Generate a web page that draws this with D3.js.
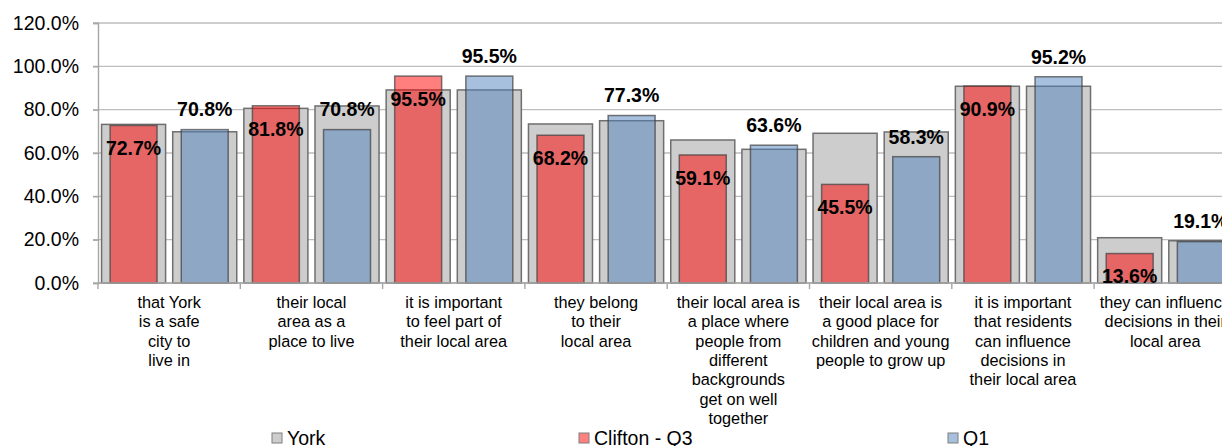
<!DOCTYPE html>
<html>
<head>
<meta charset="utf-8">
<script src="https://cdn.jsdelivr.net/npm/d3@7"></script>
<style>
  html, body { margin: 0; padding: 0; background: #fff; }
  svg { display: block; font-family: "Liberation Sans", Arial, sans-serif; }
</style>
</head>
<body>
<svg id="chart" width="1222" height="446"></svg>
<script>
// Category labels, pre-wrapped into lines
const categories = [
  ["that York", "is a safe", "city to", "live in"],
  ["their local", "area as a", "place to live"],
  ["it is important", "to feel part of", "their local area"],
  ["they belong", "to their", "local area"],
  ["their local area is", "a place where", "people from", "different", "backgrounds", "get on well", "together"],
  ["their local area is", "a good place for", "children and young", "people to grow up"],
  ["it is important", "that residents", "can influence", "decisions in", "their local area"],
  ["they can influence", "decisions in their", "local area"]
];

// York comparison values behind each quarter's bar (%)
const yorkQ3 = [73.2, 80.6, 89.1, 73.4, 66.0, 69.1, 90.8, 20.9];
const yorkQ1 = [69.8, 81.7, 89.1, 74.9, 61.7, 69.7, 90.8, 19.5];
// Ward values (%)
const cliftonQ3 = [72.7, 81.8, 95.5, 68.2, 59.1, 45.5, 90.9, 13.6];
const q1 = [70.8, 70.8, 95.5, 77.3, 63.6, 58.3, 95.2, 19.1];

const yTicks = [0, 20, 40, 60, 80, 100, 120];
const legendItems = ["York", "Clifton - Q3", "Q1"];

const svg = d3.select("#chart");
const margin = { left: 98, top: 23, bottom: 283, right: 1236.4 };

const idx = d3.range(categories.length);
const x0 = d3.scaleBand().domain(idx).range([margin.left, margin.right]).padding(0);
const x1 = d3.scaleBand().domain(["q3", "q1"]).range([0, x0.bandwidth()]).padding(0);
const y = d3.scaleLinear().domain([0, 120]).range([margin.bottom, margin.top]);

const slot = x1.bandwidth();
const yorkW = slot * 0.9;
const barW = slot * 0.66;

// Gridlines
svg.append("g")
  .selectAll("line")
  .data(yTicks)
  .join("line")
  .attr("x1", margin.left - 5)
  .attr("x2", margin.right)
  .attr("y1", d => y(d))
  .attr("y2", d => y(d))
  .attr("stroke", "#bdbdbd")
  .attr("stroke-width", 1.4);

// Y axis
const yAxis = svg.append("g")
  .attr("transform", `translate(${margin.left},0)`)
  .call(d3.axisLeft(y).tickValues(yTicks).tickSize(5).tickFormat(d => d3.format(".1f")(d) + "%"));
yAxis.select(".domain").attr("stroke", "#a6a6a6").attr("stroke-width", 1.4);
yAxis.selectAll(".tick line").attr("stroke", "#a6a6a6").attr("stroke-width", 1.4);
yAxis.selectAll(".tick text")
  .attr("x", -19)
  .attr("font-size", 19.5)
  .attr("font-family", "Liberation Sans, Arial, sans-serif")
  .attr("fill", "#000");

// Series definitions: backing York bars and foreground ward bars
const series = [
  { key: "q3", york: yorkQ3, vals: cliftonQ3, fill: "#ff0000" },
  { key: "q1", york: yorkQ1, vals: q1, fill: "#4f81bd" }
];

const barsG = svg.append("g");
series.forEach(s => {
  barsG.append("g").selectAll("rect")
    .data(idx)
    .join("rect")
    .attr("x", i => x0(i) + x1(s.key) + (slot - yorkW) / 2)
    .attr("width", yorkW)
    .attr("y", i => y(s.york[i]))
    .attr("height", i => y(0) - y(s.york[i]))
    .attr("fill", "#cdcdcd")
    .attr("stroke", "#6f6f6f")
    .attr("stroke-width", 1.5);
});
series.forEach(s => {
  barsG.append("g").selectAll("rect")
    .data(idx)
    .join("rect")
    .attr("x", i => x0(i) + x1(s.key) + (slot - barW) / 2)
    .attr("width", barW)
    .attr("y", i => y(s.vals[i]))
    .attr("height", i => y(0) - y(s.vals[i]))
    .attr("fill", s.fill)
    .attr("fill-opacity", 0.5)
    .attr("stroke", "#404040")
    .attr("stroke-opacity", 0.7)
    .attr("stroke-width", 1.5);
});

// X axis baseline and category ticks
svg.append("line")
  .attr("x1", margin.left).attr("x2", margin.right)
  .attr("y1", y(0)).attr("y2", y(0))
  .attr("stroke", "#a6a6a6").attr("stroke-width", 1.4);
svg.append("g").selectAll("line")
  .data(d3.range(categories.length + 1))
  .join("line")
  .attr("x1", i => margin.left + i * x0.bandwidth())
  .attr("x2", i => margin.left + i * x0.bandwidth())
  .attr("y1", y(0)).attr("y2", y(0) + 6)
  .attr("stroke", "#a6a6a6").attr("stroke-width", 1.4);

// Category labels
const catG = svg.append("g")
  .attr("font-size", 16.3)
  .attr("text-anchor", "middle")
  .attr("fill", "#000");
categories.forEach((lines, i) => {
  const t = catG.append("text")
    .attr("x", x0(i) + x0.bandwidth() / 2)
    .attr("y", 308);
  lines.forEach((ln, j) => {
    t.append("tspan")
      .attr("x", x0(i) + x0.bandwidth() / 2)
      .attr("y", 308 + j * 19.3)
      .text(ln);
  });
});

// Data labels
const fmt = d => d3.format(".1f")(d) + "%";
const lblG = svg.append("g")
  .attr("font-size", 19.5)
  .attr("font-weight", "bold")
  .attr("text-anchor", "middle")
  .attr("fill", "#000");
lblG.selectAll("text.q3")
  .data(idx)
  .join("text")
  .attr("class", "q3")
  .attr("x", i => x0(i) + x1("q3") + slot / 2)
  .attr("y", i => y(cliftonQ3[i]) + 23)
  .attr("dy", "0.35em")
  .text(i => fmt(cliftonQ3[i]));
lblG.selectAll("text.q1")
  .data(idx)
  .join("text")
  .attr("class", "q1")
  .attr("x", i => x0(i) + x1("q1") + slot / 2)
  .attr("y", i => y(q1[i]) - 20)
  .attr("dy", "0.35em")
  .text(i => fmt(q1[i]));

// Legend
const legendX = [272, 579, 948];
const legendFill = ["#cdcdcd", "#ff8080", "#a7c0de"];
const legG = svg.append("g");
legendItems.forEach((name, i) => {
  legG.append("rect")
    .attr("x", legendX[i]).attr("y", 433)
    .attr("width", 10).attr("height", 10)
    .attr("fill", legendFill[i])
    .attr("stroke", "#7f7f7f").attr("stroke-width", 1);
  legG.append("text")
    .attr("x", legendX[i] + 15).attr("y", 445)
    .attr("font-size", 19.5)
    .attr("fill", "#000")
    .text(name);
});
</script>
</body>
</html>
